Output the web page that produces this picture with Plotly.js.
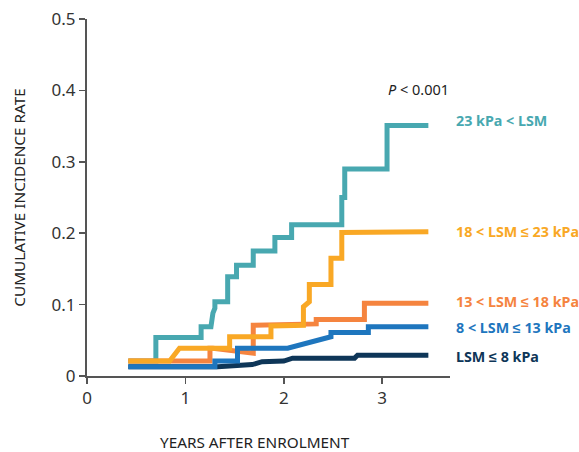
<!DOCTYPE html>
<html>
<head>
<meta charset="utf-8">
<script src="https://cdn.plot.ly/plotly-3.0.1.min.js"></script>
<style>html,body{margin:0;padding:0;background:#fff;}#chart{width:579px;height:452px;}</style>
</head>
<body>
<div id="chart"></div>
<script>
// Series labels
const seriesNames = ["23 kPa < LSM", "18 < LSM \u2264 23 kPa", "13 < LSM \u2264 18 kPa", "8 < LSM \u2264 13 kPa", "LSM \u2264 8 kPa"];

// Curve vertices (years after enrolment, cumulative incidence rate)
const teal_x = [0.42, 0.70, 0.70, 1.16, 1.16, 1.26, 1.28, 1.30, 1.30, 1.43, 1.43, 1.52, 1.52, 1.69, 1.69, 1.91, 1.91, 2.08, 2.08, 2.59, 2.59, 2.62, 2.62, 3.05, 3.05, 3.47];
const teal_y = [0.021, 0.021, 0.054, 0.054, 0.069, 0.069, 0.088, 0.095, 0.104, 0.104, 0.139, 0.139, 0.155, 0.155, 0.175, 0.175, 0.194, 0.194, 0.212, 0.212, 0.250, 0.250, 0.290, 0.290, 0.351, 0.351];

const coral_x = [0.42, 1.25, 1.25, 1.28, 1.69, 1.69, 2.33, 2.33, 2.82, 2.82, 3.47];
const coral_y = [0.021, 0.021, 0.039, 0.039, 0.032, 0.071, 0.073, 0.079, 0.079, 0.102, 0.102];

const yellow_x = [0.42, 0.84, 0.94, 1.45, 1.45, 1.87, 1.87, 2.20, 2.20, 2.26, 2.26, 2.48, 2.48, 2.59, 2.59, 3.47];
const yellow_y = [0.021, 0.021, 0.039, 0.039, 0.055, 0.055, 0.070, 0.071, 0.097, 0.104, 0.128, 0.128, 0.165, 0.165, 0.201, 0.202];

const navy_x = [0.42, 1.33, 1.68, 1.78, 2.00, 2.09, 2.72, 2.75, 3.47];
const navy_y = [0.013, 0.013, 0.016, 0.020, 0.021, 0.025, 0.025, 0.029, 0.029];

const blue_x = [0.42, 1.30, 1.30, 1.53, 1.53, 2.04, 2.48, 2.48, 2.86, 2.86, 3.47];
const blue_y = [0.013, 0.013, 0.021, 0.021, 0.039, 0.039, 0.055, 0.061, 0.061, 0.069, 0.069];

// Axis ticks
const xTicks = [0, 1, 2, 3];
const xTickText = ["0", "1", "2", "3"];
const yTicks = [0, 0.1, 0.2, 0.3, 0.4, 0.5];
const yTickText = ["0", "0.1", "0.2", "0.3", "0.4", "0.5"];

const colors = ["#48A8B0", "#F9A825", "#F5843F", "#1E76BE", "#0E3658"];
const lw = 5;

const traces = [
  {x: teal_x, y: teal_y, name: seriesNames[0], color: colors[0]},
  {x: coral_x, y: coral_y, name: seriesNames[2], color: colors[2]},
  {x: yellow_x, y: yellow_y, name: seriesNames[1], color: colors[1]},
  {x: navy_x, y: navy_y, name: seriesNames[4], color: colors[4]},
  {x: blue_x, y: blue_y, name: seriesNames[3], color: colors[3]}
].map(t => ({
  type: "scatter", mode: "lines", x: t.x, y: t.y, name: t.name,
  line: {color: t.color, width: lw, shape: "linear"}, showlegend: false, hoverinfo: "skip"
}));

const labelY = [0.358, 0.203, 0.104, 0.068, 0.028];
const labelOrder = [0, 1, 2, 3, 4];
const annFont = "Noto Sans, sans-serif";
const annotations = labelOrder.map(i => ({
  xref: "paper", yref: "y", x: 1.012, y: labelY[i], xanchor: "left", yanchor: "middle",
  text: "<b>" + seriesNames[i].replace("<", "&lt;") + "</b>", showarrow: false,
  font: {family: annFont, size: 14.3, color: colors[i]}
}));
annotations.push({
  xref: "x", yref: "y", x: 3.37, y: 0.402, xanchor: "center", yanchor: "middle",
  text: "<i>P</i> &lt; 0.001", showarrow: false,
  font: {family: annFont, size: 14.5, color: "#222"}
});
annotations.push({
  xref: "paper", yref: "paper", x: (255 - 87) / 363, y: -0.185, xanchor: "center", yanchor: "middle",
  text: "YEARS AFTER ENROLMENT", showarrow: false,
  font: {family: annFont, size: 15.3, color: "#222"}
});

const layout = {
  width: 579, height: 452,
  margin: {l: 87, r: 129, t: 19, b: 76, pad: 0},
  paper_bgcolor: "#fff", plot_bgcolor: "#fff",
  font: {family: annFont, color: "#333"},
  xaxis: {
    range: [0, 3.69], tickvals: xTicks, ticktext: xTickText,
    showgrid: false, zeroline: false, showline: true, linecolor: "#555", linewidth: 2,
    ticks: "outside", ticklen: 6, tickwidth: 1.5, tickcolor: "#555",
    tickfont: {family: annFont, size: 17, color: "#333"}, fixedrange: true
  },
  yaxis: {
    range: [0, 0.5], tickvals: yTicks, ticktext: yTickText,
    showgrid: false, zeroline: false, showline: true, linecolor: "#555", linewidth: 2,
    ticks: "outside", ticklen: 6, tickwidth: 1.5, tickcolor: "#555",
    tickfont: {family: annFont, size: 17, color: "#333"}, fixedrange: true,
    title: {text: "CUMULATIVE INCIDENCE RATE", font: {family: annFont, size: 15.3, color: "#222"}, standoff: 22}
  },
  annotations: annotations,
  showlegend: false
};

Plotly.newPlot("chart", traces, layout, {displayModeBar: false, staticPlot: true});
</script>
</body>
</html>
